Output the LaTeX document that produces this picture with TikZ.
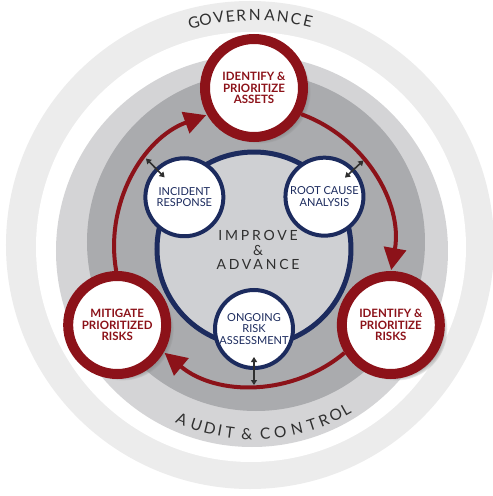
\documentclass[tikz,border=0pt]{standalone}
\usepackage{fontspec}
\newfontfamily\labelfont{Lato}
\newfontfamily\spacedfont[LetterSpace=20]{Lato}
\usetikzlibrary{arrows.meta,shadows}
\definecolor{riskred}{HTML}{8C1219}
\definecolor{navy}{HTML}{1C2B5E}
\definecolor{ringlight}{HTML}{ECECEC}
\definecolor{ringmid}{HTML}{D4D4D6}
\definecolor{ringdark}{HTML}{AAABAE}
\definecolor{coregray}{HTML}{CFD0D3}
\definecolor{inkgray}{HTML}{2F2F2F}

\begin{document}
\begin{tikzpicture}[
  x=1pt, y=1pt,
  bigstep/.style={circle, draw=riskred, line width=10pt, fill=white, minimum size=98pt, inner sep=0pt, align=center, text=riskred, font=\labelfont\bfseries\fontsize{11.5}{11.5}\selectfont, circular drop shadow={shadow xshift=5pt, shadow yshift=-4pt, shadow scale=1.05}},
  smallstep/.style={circle, draw=navy, line width=4pt, fill=white, minimum size=78pt, inner sep=0pt, align=center, text=navy, font=\labelfont\fontsize{11}{11.5}\selectfont},
  loopline/.style={draw=riskred, line width=4pt, -{Triangle[length=22pt,width=22pt]}},
  twoway/.style={draw=inkgray, line width=1.6pt, {Triangle[length=5pt,width=6pt]}-{Triangle[length=5pt,width=6pt]}, shorten >=28pt},
  ringtext/.style={text=inkgray, font=\labelfont\fontsize{15.5}{15.5}\selectfont, text height=11pt, text depth=0pt, inner sep=0pt},
  coretext/.style={align=center, text=inkgray, font=\spacedfont\fontsize{14}{14.5}\selectfont}
]

\fill[white] (-254,-250) rectangle (239,246);
\useasboundingbox (-254,-250) rectangle (239,246);
\fill[ringlight] (-4,1) circle[radius=244pt];
\fill[white] (-3,-1) circle[radius=215pt];
\fill[ringmid] (-2,-5) circle[radius=196pt];
\fill[ringdark] (2,4) circle[radius=169pt];
\draw[navy, line width=5pt, fill=coregray] (0,-3) circle[radius=97pt];

\node[coretext] (improve) at (4,-4) {IMPROVE\\\&\\ADVANCE};

\node[smallstep] (incident) at (145:85) {INCIDENT\\RESPONSE};
\node[smallstep] (rootcause) at (35:86) {ROOT CAUSE\\ANALYSIS};
\node[smallstep] (ongoing) at (270:83) {ONGOING\\RISK\\ASSESSMENT};

\node[bigstep] (assets) at (90:158) {IDENTIFY \&\\PRIORITIZE\\ASSETS};
\node[bigstep] (risks) at (-30:158) {IDENTIFY \&\\PRIORITIZE\\RISKS};
\node[bigstep] (mitigate) at (210:158) {MITIGATE\\PRIORITIZED\\RISKS};

\draw[loopline] (assets.-29) arc[start angle=70, end angle=-10, radius=140pt];
\draw[loopline] (risks.-149) arc[start angle=-50, end angle=-130, radius=140pt];
\draw[loopline] (mitigate.91) arc[start angle=190, end angle=110, radius=140pt];

\coordinate (incidentring) at (141:139);
\coordinate (rootring) at (38:139);
\coordinate (ongoingring) at (270:139);
\draw[twoway] (incidentring) -- (incident.center);
\draw[twoway] (rootring) -- (rootcause.center);
\draw[twoway] (ongoingring) -- (ongoing.center);

\foreach \ch/\ang [count=\i] in {G/105.1,O/102.1,V/98.8,E/95.9,R/93.2,N/89.8,A/86.1,N/82.8,C/79.5,E/76.5}
  \node[ringtext, rotate=\ang-90] (gov\i) at (\ang:231) {\ch};
\foreach \ch/\ang [count=\i] in {A/247.4,U/252.2,D/256.4,I/259.6,T/262.6,\&/267.8,C/273.4,O/278.0,N/283.2,T/287.9,R/291.8,O/295.8,L/299.3}
  \node[ringtext, rotate=\ang+90] (audit\i) at (\ang:188) {\ch};

\end{tikzpicture}
\end{document}
